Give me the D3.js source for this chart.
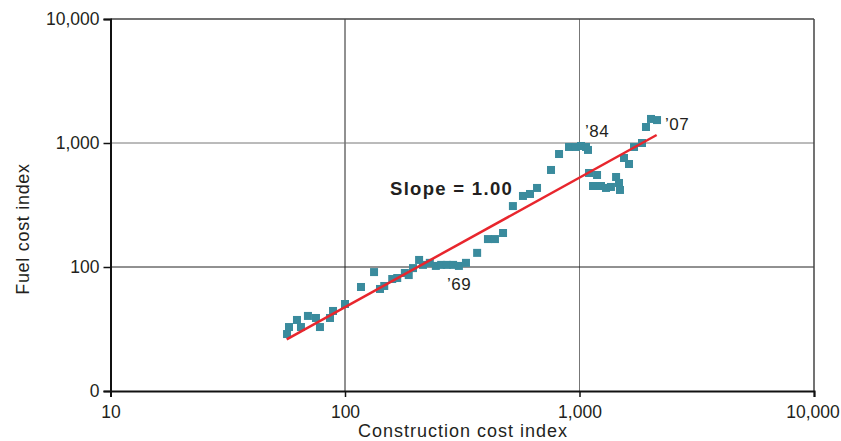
<!DOCTYPE html>
<html>
<head>
<meta charset="utf-8">
<script src="https://cdn.jsdelivr.net/npm/d3@7"></script>
<style>
  body { margin: 0; background: #fff; }
  svg text { font-family: "Liberation Sans", Arial, sans-serif; fill: #231f20; }
</style>
</head>
<body>
<div id="chart"></div>
<script>
// construction cost index (x) and fuel cost index (y), one point per year
const constructionIdx = [56.6, 57.7, 62.4, 64.9, 69.5, 75.2, 78.2, 86.3, 88.9, 100,
  117, 133, 141, 147, 159, 167, 180, 187, 195, 207,
  215, 230, 244, 257, 272, 289, 306, 328, 366, 407,
  436, 472, 520, 574, 615, 659, 756, 818, 902, 966,
  1015, 1066, 1087, 1098, 1142, 1188, 1235, 1297, 1362, 1432,
  1474, 1488, 1548, 1626, 1708, 1847, 1921, 2018, 2141];
const fuelIdx = [28.8, 32.8, 37.4, 32.8, 40.3, 38.8, 32.8, 38.8, 44.2, 50.3,
  69, 91, 66.5, 70.3, 80, 81.5, 89.5, 86.1, 98, 114,
  104, 108, 102, 104, 104, 104, 102, 108, 130, 168,
  168, 188, 310, 374, 388, 434, 606, 815, 929, 929,
  946, 929, 879, 573, 450, 552, 450, 434, 442, 532,
  476, 418, 757, 677, 929, 1000, 1346, 1563, 1531];

// fitted line end points
const fitX = [56.4, 2133];
const fitY = [26.1, 1160];

const tickVals = [10, 100, 1000, 10000];
const xTickLabels = ['10', '100', '1,000', '10,000'];
const yTickLabels = ['0', '100', '1,000', '10,000'];

const yearNotes = [
  { text: '\u201969', x: 272, y: 65.2 },
  { text: '\u201984', x: 1056, y: 1117 },
  { text: '\u201907', x: 2315, y: 1274 }
];

const width = 841, height = 441;
const margin = { top: 19, right: 27, bottom: 50, left: 110.5 };

const svg = d3.select('#chart').append('svg')
  .attr('width', width)
  .attr('height', height);

const x = d3.scaleLog()
  .domain([10, 10000])
  .range([margin.left, width - margin.right]);
const y = d3.scaleLog()
  .domain([10, 10000])
  .range([height - margin.bottom, margin.top]);

// grid lines
svg.append('g').selectAll('line')
  .data([100, 1000])
  .enter().append('line')
  .attr('x1', d => x(d)).attr('x2', d => x(d))
  .attr('y1', y(10)).attr('y2', y(10000))
  .attr('stroke', d => d === 100 ? '#222' : '#777')
  .attr('stroke-width', 1);
svg.append('g').selectAll('line')
  .data([100, 1000])
  .enter().append('line')
  .attr('y1', d => y(d)).attr('y2', d => y(d))
  .attr('x1', x(10)).attr('x2', x(10000))
  .attr('stroke', d => d === 100 ? '#222' : '#777')
  .attr('stroke-width', 1);

// frame top / right
svg.append('line')
  .attr('x1', x(10)).attr('x2', x(10000))
  .attr('y1', y(10000)).attr('y2', y(10000))
  .attr('stroke', '#444').attr('stroke-width', 1.5);
svg.append('line')
  .attr('x1', x(10000)).attr('x2', x(10000))
  .attr('y1', y(10)).attr('y2', y(10000))
  .attr('stroke', '#444').attr('stroke-width', 1.5);

// axes
const xAxis = d3.axisBottom(x)
  .tickValues(tickVals)
  .tickSize(6)
  .tickPadding(9)
  .tickFormat((d, i) => xTickLabels[i]);
const yAxis = d3.axisLeft(y)
  .tickValues(tickVals)
  .tickSize(7)
  .tickPadding(4)
  .tickFormat((d, i) => yTickLabels[i]);

const gx = svg.append('g')
  .attr('transform', `translate(0, ${y(10)})`)
  .call(xAxis);
const gy = svg.append('g')
  .attr('transform', `translate(${x(10)}, 0)`)
  .call(yAxis);

[gx, gy].forEach(g => {
  g.select('.domain').attr('stroke', '#111').attr('stroke-width', 2);
  g.selectAll('.tick line').attr('stroke', '#111').attr('stroke-width', 1.5);
  g.selectAll('.tick text')
    .attr('font-size', 17.5)
    .attr('font-family', '"Liberation Sans", Arial, sans-serif')
    .attr('fill', '#231f20');
});
// last x label sits at the page edge, nudge it in
gx.selectAll('.tick text').filter(d => d === 10000).attr('dx', -1.5);

// axis titles
svg.append('text')
  .text('Construction cost index')
  .attr('x', 463)
  .attr('y', 437)
  .attr('text-anchor', 'middle')
  .attr('font-size', 18)
  .attr('letter-spacing', 1);
svg.append('text')
  .text('Fuel cost index')
  .attr('transform', 'translate(29, 229) rotate(-90)')
  .attr('text-anchor', 'middle')
  .attr('font-size', 18)
  .attr('letter-spacing', 0.7);

// points
const pts = constructionIdx.map((c, i) => ({ c: c, f: fuelIdx[i] }));
const sz = 8;
svg.append('g').selectAll('rect')
  .data(pts)
  .enter().append('rect')
  .attr('x', d => x(d.c) - sz / 2)
  .attr('y', d => y(d.f) - sz / 2)
  .attr('width', sz)
  .attr('height', sz)
  .attr('fill', '#3a8b9d');

// fitted line
svg.append('line')
  .attr('x1', x(fitX[0])).attr('y1', y(fitY[0]))
  .attr('x2', x(fitX[1])).attr('y2', y(fitY[1]))
  .attr('stroke', '#e8262d')
  .attr('stroke-width', 2.5);

// labels
svg.append('text')
  .text('Slope = 1.00')
  .attr('x', 390)
  .attr('y', 195)
  .attr('font-size', 18.5)
  .attr('font-weight', 'bold')
  .attr('letter-spacing', 1.3);

svg.append('g').selectAll('text')
  .data(yearNotes)
  .enter().append('text')
  .text(d => d.text)
  .attr('x', d => x(d.x))
  .attr('y', d => y(d.y))
  .attr('font-size', 17)
  .attr('letter-spacing', 0.5);
</script>
</body>
</html>
